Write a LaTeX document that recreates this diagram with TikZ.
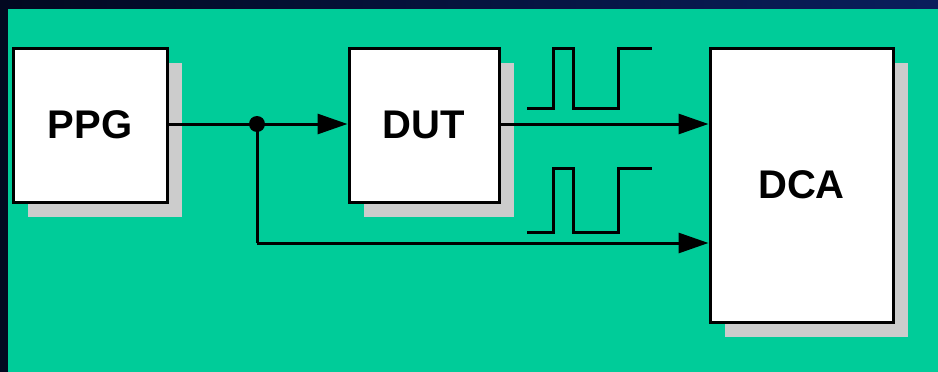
\documentclass[tikz,border=0pt]{standalone}
\usepackage{fontspec}
\setmainfont{Liberation Sans}
\usetikzlibrary{arrows.meta,shadows,calc}
\definecolor{bggreen}{HTML}{00CC99}
\definecolor{shadowgray}{HTML}{CCCCCC}
\definecolor{navyL}{HTML}{020820}
\definecolor{navyR}{HTML}{0A1E5C}
\begin{document}
\begin{tikzpicture}[x=1pt,y=-1pt,
  blockbox/.style={draw=black, fill=white, line width=3pt, inner sep=0pt,
    font=\fontsize{40}{40}\selectfont\bfseries,
    drop shadow={shadow xshift=15pt, shadow yshift=-15pt, opacity=1, fill=shadowgray}},
  wire/.style={line width=3pt},
  arr/.style={wire, -{Triangle[length=30pt,width=20pt]}},
  pulse/.style={line width=3pt, line join=miter}
]
\useasboundingbox (0,0) rectangle (938,372);
\shade[left color=navyL, right color=navyR] (0,0) rectangle (938,372);
\fill[bggreen] (8,9) rectangle (938,372);

\node[blockbox, minimum width=154pt, minimum height=154pt] (PPG) at (90,125) {PPG};
\node[blockbox, minimum width=150pt, minimum height=154pt] (DUT) at (424,125) {DUT};
\node[blockbox, minimum width=183pt, minimum height=274pt] (DCA) at (801.5,185) {DCA};

\coordinate (J) at (257,124);
\coordinate (B) at (257,243);

\draw[wire] (PPG.east |- J) -- (J);
\draw[arr] (J) -- (DUT.west |- J);
\draw[arr] (DUT.east |- J) -- (DCA.west |- J);
\draw[wire] (J) -- (B);
\draw[arr] (B) -- (B -| DCA.west);
\fill[black] (J) circle (8pt);

\draw[pulse] (527,108) -- (553,108) -- (553,48) -- (573,48) -- (573,108) -- (618,108) -- (618,48) -- (652,48);
\draw[pulse] (527,232) -- (553,232) -- (553,168) -- (573,168) -- (573,232) -- (618,232) -- (618,168) -- (652,168);
\end{tikzpicture}
\end{document}
